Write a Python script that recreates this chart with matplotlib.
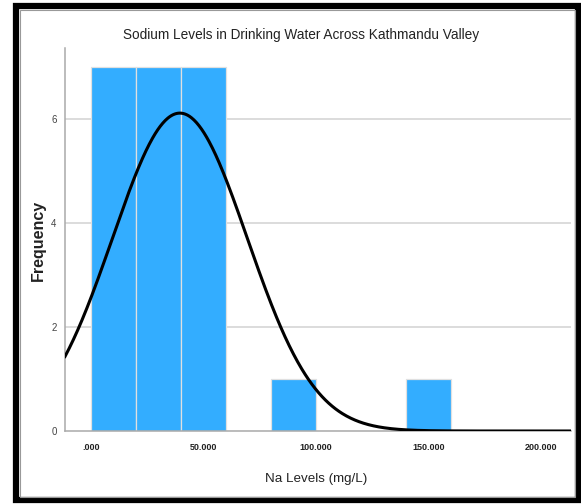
import numpy as np
import matplotlib
matplotlib.use("Agg")
import matplotlib.pyplot as plt
from matplotlib.patches import Rectangle

# ---- data ----
bin_edges = [0, 20, 40, 60, 80, 100, 120, 140, 160]
counts = [7, 7, 7, 0, 1, 0, 0, 1]
curve_mean = 39.5
curve_sd = 30.0
n_total = 23
x_ticks = [0, 50, 100, 150, 200]
x_tick_labels = [".000", "50.000", "100.000", "150.000", "200.000"]
y_ticks = [0, 2, 4, 6]
title = "Sodium Levels in Drinking Water Across Kathmandu Valley"
x_label = "Na Levels (mg/L)"
y_label = "Frequency"

W, H = 581, 504
fig = plt.figure(figsize=(W / 100, H / 100), dpi=100)
fig.patch.set_facecolor("white")

ax = fig.add_axes([65 / W, (H - 431) / H, (571 - 65) / W, (431 - 48) / H])

widths = np.diff(bin_edges)
ax.bar(bin_edges[:-1], counts, width=widths, align="edge",
       color="#33adff", edgecolor="#e0e0e0", linewidth=0.9, zorder=2)

xs = np.linspace(-11.6, 213, 600)
binw = widths[0]
ys = n_total * binw / (curve_sd * np.sqrt(2 * np.pi)) * np.exp(-(xs - curve_mean) ** 2 / (2 * curve_sd ** 2))
ax.plot(xs, ys, color="black", linewidth=2.2, zorder=3)

ax.set_xlim(-11.6, 213.5)
ax.set_ylim(0, 7.37)
for y in y_ticks[1:]:
    ax.axhline(y, color="#d9d9d9", linewidth=1.3, zorder=1)

ax.set_xticks(x_ticks)
ax.set_xticklabels(x_tick_labels, fontfamily="Liberation Sans", fontweight="bold", fontsize=6.5, color="#222222")
ax.set_yticks(y_ticks)
ax.set_yticklabels([str(v) for v in y_ticks], fontfamily="Liberation Sans", fontsize=7, color="#444444")
ax.tick_params(axis="both", length=0)
ax.tick_params(axis="x", pad=9)
ax.tick_params(axis="y", pad=6)

for s in ["top", "right"]:
    ax.spines[s].set_visible(False)
for s in ["left", "bottom"]:
    ax.spines[s].set_color("#aaaaaa")
    ax.spines[s].set_linewidth(1.1)

fig.text(301 / W, 1 - 35 / H, title, ha="center", va="center",
         fontfamily="Liberation Sans", fontsize=9.8, color="#222222")
fig.text(316 / W, 1 - 479 / H, x_label, ha="center", va="center",
         fontfamily="Liberation Sans", fontsize=9.6, color="#222222")
fig.text(38 / W, 1 - 240 / H, y_label, ha="center", va="center", rotation=90,
         fontfamily="Liberation Sans", fontweight="bold", fontsize=11.5, color="#222222")

# outer frame
fig.patches.append(Rectangle((16 / W, 1 - 500 / H), (578 - 16) / W, (500 - 6) / H,
                             transform=fig.transFigure, fill=False,
                             edgecolor="black", linewidth=4.5, zorder=10))
fig.patches.append(Rectangle((19.5 / W, 1 - 496.5 / H), (574.5 - 19.5) / W, (496.5 - 9.5) / H,
                             transform=fig.transFigure, fill=False,
                             edgecolor="#999999", linewidth=0.8, zorder=10))

fig.savefig("out.png", dpi=100)
